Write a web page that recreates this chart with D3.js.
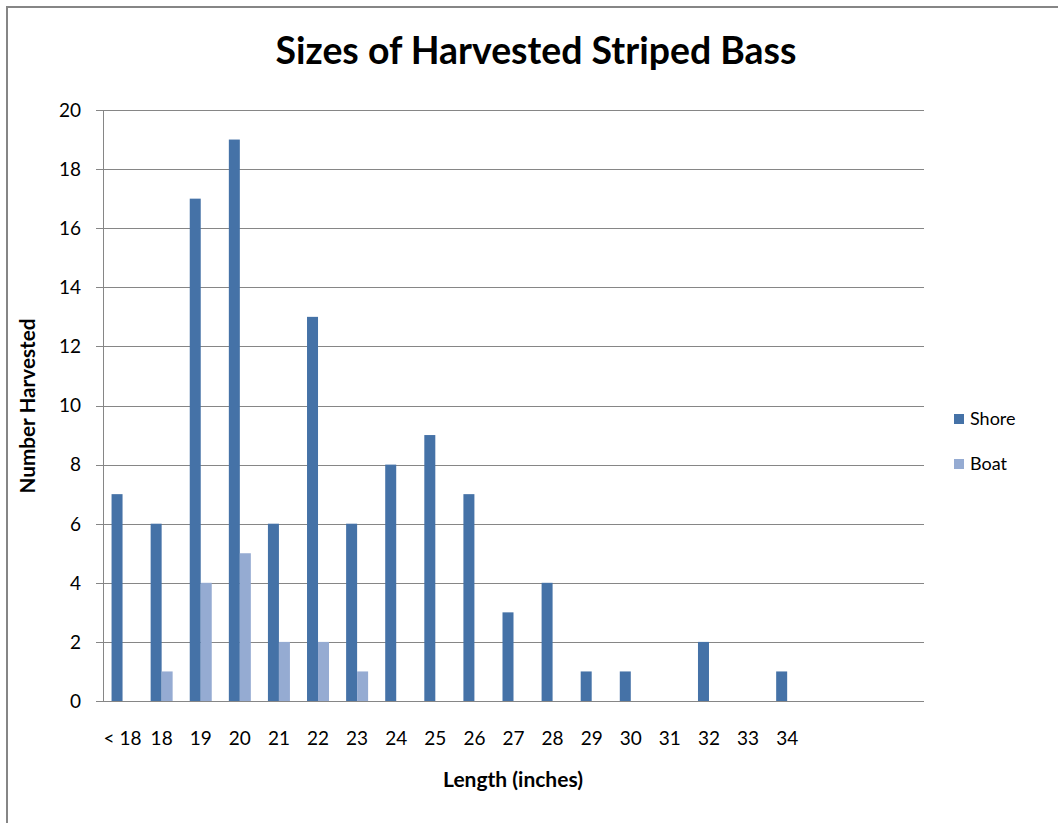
<!DOCTYPE html>
<html>
<head>
<meta charset="utf-8">
<script src="https://cdn.jsdelivr.net/npm/d3@7"></script>
<style>
  body { margin: 0; background: #fff; }
  svg { display: block; }
  text { font-family: Lato, "Open Sans", sans-serif; fill: #000; }
</style>
</head>
<body>
<svg id="chart" width="1058" height="823"></svg>
<script>
const categories = ["< 18","18","19","20","21","22","23","24","25","26","27","28","29","30","31","32","33","34","","",""];
const shoreValues = [7,6,17,19,6,13,6,8,9,7,3,4,1,1,0,2,0,1,null,null,null];
const boatValues  = [0,1,4,5,2,2,1,0,0,0,0,0,0,0,0,0,0,0,null,null,null];
const yTicks = [0,2,4,6,8,10,12,14,16,18,20];
const seriesNames = ["Shore","Boat"];
const seriesColors = ["#4572A7","#95ABD2"];

const svg = d3.select("#chart");
const W = 1058, H = 823;
const m = {left: 103, right: 924, top: 110, bottom: 701};

// outer border
svg.append("rect").attr("x", 7).attr("y", 7).attr("width", W + 20).attr("height", H + 20)
  .attr("fill", "none").attr("stroke", "#868686").attr("stroke-width", 2);

const x = d3.scaleBand().domain(d3.range(categories.length)).range([m.left, m.right]).paddingInner(0).paddingOuter(0);
const y = d3.scaleLinear().domain([0, 20]).range([m.bottom, m.top]);

const step = x.bandwidth();
const groupW = step * 22 / 39.1;
const xs = d3.scaleBand().domain([0, 1]).range([0, groupW]);

// gridlines
svg.append("g").selectAll("line").data(yTicks).join("line")
  .attr("x1", m.left - 7).attr("x2", m.right)
  .attr("y1", d => Math.round(y(d)) + 0.5).attr("y2", d => Math.round(y(d)) + 0.5)
  .attr("stroke", "#868686").attr("stroke-width", 1);

// y axis line
svg.append("line").attr("x1", m.left + 0.5).attr("x2", m.left + 0.5)
  .attr("y1", m.top).attr("y2", m.bottom + 0.5).attr("stroke", "#868686");

// y tick labels
svg.append("g").selectAll("text").data(yTicks).join("text")
  .attr("x", 81).attr("y", d => y(d)).attr("dy", "0.36em")
  .attr("text-anchor", "end").attr("font-size", 19).text(d => d);

// bars
const series = [shoreValues, boatValues];
series.forEach((vals, si) => {
  svg.append("g").selectAll("rect").data(vals.map((v, i) => ({v, i})).filter(d => d.v))
    .join("rect")
    .attr("x", d => x(d.i) + (step - groupW) / 2 + xs(si))
    .attr("width", xs.bandwidth())
    .attr("y", d => y(d.v))
    .attr("height", d => y(0) - y(d.v))
    .attr("fill", seriesColors[si]);
});

// x tick labels
svg.append("g").selectAll("text").data(categories).join("text")
  .attr("x", (d, i) => x(i) + step / 2).attr("y", 745)
  .attr("text-anchor", "middle").attr("font-size", 19).text(d => d);

function fit(sel, target) {
  const w = sel.node().getComputedTextLength();
  const fs = parseFloat(sel.attr("font-size"));
  sel.attr("font-size", fs * target / w);
}

// title
const title = svg.append("text").attr("x", 536).attr("y", 64).attr("text-anchor", "middle")
  .attr("font-size", 34).attr("font-weight", "bold").text("Sizes of Harvested Striped Bass");
fit(title, 521);

// axis titles
const xt = svg.append("text").attr("x", 513).attr("y", 787).attr("text-anchor", "middle")
  .attr("font-size", 17).attr("font-weight", "bold").text("Length (inches)");
fit(xt, 140);
const yt = svg.append("text").attr("transform", "translate(35,406) rotate(-90)").attr("text-anchor", "middle")
  .attr("font-size", 17).attr("font-weight", "bold").text("Number Harvested");
fit(yt, 175);

// legend
const leg = svg.append("g");
seriesNames.forEach((n, i) => {
  const yy = 414 + i * 45;
  leg.append("rect").attr("x", 954).attr("y", yy).attr("width", 10).attr("height", 10).attr("fill", seriesColors[i]);
  leg.append("text").attr("x", 970).attr("y", yy + 11).attr("font-size", 18).text(n);
});
</script>
</body>
</html>
